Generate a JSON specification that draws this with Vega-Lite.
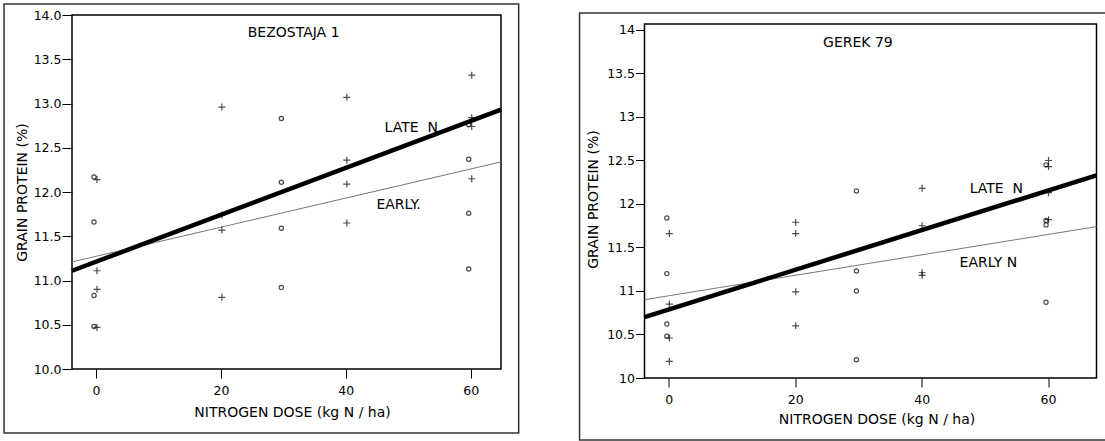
{
  "$schema": "https://vega.github.io/schema/vega-lite/v6.json",
  "padding": {"left": 3, "top": 3, "right": 0, "bottom": 0},
  "spacing": 58.5,
  "config": {
    "view": {"stroke": null},
    "axis": {"domain": false, "grid": false, "labelFont": "DejaVu Sans", "labelFontSize": 12.5, "labelColor": "#000", "tickColor": "#000", "tickWidth": 1, "titleFont": "DejaVu Sans", "titleFontSize": 14, "titleFontWeight": "normal", "titleColor": "#000", "labelFlush": false, "labelOverlap": false},
    "text": {"font": "DejaVu Sans"}
  },
  "datasets": {
    "points": [
      {"variety": "BEZOSTAJA 1", "timing": "EARLY", "dose": 0, "protein": 12.17},
      {"variety": "BEZOSTAJA 1", "timing": "EARLY", "dose": 0, "protein": 11.66},
      {"variety": "BEZOSTAJA 1", "timing": "EARLY", "dose": 0, "protein": 10.83},
      {"variety": "BEZOSTAJA 1", "timing": "EARLY", "dose": 0, "protein": 10.48},
      {"variety": "BEZOSTAJA 1", "timing": "EARLY", "dose": 30, "protein": 12.83},
      {"variety": "BEZOSTAJA 1", "timing": "EARLY", "dose": 30, "protein": 12.11},
      {"variety": "BEZOSTAJA 1", "timing": "EARLY", "dose": 30, "protein": 11.59},
      {"variety": "BEZOSTAJA 1", "timing": "EARLY", "dose": 30, "protein": 10.92},
      {"variety": "BEZOSTAJA 1", "timing": "EARLY", "dose": 60, "protein": 12.76},
      {"variety": "BEZOSTAJA 1", "timing": "EARLY", "dose": 60, "protein": 12.37},
      {"variety": "BEZOSTAJA 1", "timing": "EARLY", "dose": 60, "protein": 11.76},
      {"variety": "BEZOSTAJA 1", "timing": "EARLY", "dose": 60, "protein": 11.13},
      {"variety": "BEZOSTAJA 1", "timing": "LATE", "dose": 0, "protein": 12.14},
      {"variety": "BEZOSTAJA 1", "timing": "LATE", "dose": 0, "protein": 11.11},
      {"variety": "BEZOSTAJA 1", "timing": "LATE", "dose": 0, "protein": 10.90},
      {"variety": "BEZOSTAJA 1", "timing": "LATE", "dose": 0, "protein": 10.47},
      {"variety": "BEZOSTAJA 1", "timing": "LATE", "dose": 20, "protein": 12.96},
      {"variety": "BEZOSTAJA 1", "timing": "LATE", "dose": 20, "protein": 11.74},
      {"variety": "BEZOSTAJA 1", "timing": "LATE", "dose": 20, "protein": 11.57},
      {"variety": "BEZOSTAJA 1", "timing": "LATE", "dose": 20, "protein": 10.81},
      {"variety": "BEZOSTAJA 1", "timing": "LATE", "dose": 40, "protein": 13.07},
      {"variety": "BEZOSTAJA 1", "timing": "LATE", "dose": 40, "protein": 12.36},
      {"variety": "BEZOSTAJA 1", "timing": "LATE", "dose": 40, "protein": 12.09},
      {"variety": "BEZOSTAJA 1", "timing": "LATE", "dose": 40, "protein": 11.65},
      {"variety": "BEZOSTAJA 1", "timing": "LATE", "dose": 60, "protein": 13.32},
      {"variety": "BEZOSTAJA 1", "timing": "LATE", "dose": 60, "protein": 12.84},
      {"variety": "BEZOSTAJA 1", "timing": "LATE", "dose": 60, "protein": 12.74},
      {"variety": "BEZOSTAJA 1", "timing": "LATE", "dose": 60, "protein": 12.15},
      {"variety": "GEREK 79", "timing": "EARLY", "dose": 0, "protein": 11.84},
      {"variety": "GEREK 79", "timing": "EARLY", "dose": 0, "protein": 11.20},
      {"variety": "GEREK 79", "timing": "EARLY", "dose": 0, "protein": 10.62},
      {"variety": "GEREK 79", "timing": "EARLY", "dose": 0, "protein": 10.48},
      {"variety": "GEREK 79", "timing": "EARLY", "dose": 30, "protein": 12.15},
      {"variety": "GEREK 79", "timing": "EARLY", "dose": 30, "protein": 11.23},
      {"variety": "GEREK 79", "timing": "EARLY", "dose": 30, "protein": 11.00},
      {"variety": "GEREK 79", "timing": "EARLY", "dose": 30, "protein": 10.21},
      {"variety": "GEREK 79", "timing": "EARLY", "dose": 60, "protein": 12.45},
      {"variety": "GEREK 79", "timing": "EARLY", "dose": 60, "protein": 11.81},
      {"variety": "GEREK 79", "timing": "EARLY", "dose": 60, "protein": 11.76},
      {"variety": "GEREK 79", "timing": "EARLY", "dose": 60, "protein": 10.87},
      {"variety": "GEREK 79", "timing": "LATE", "dose": 0, "protein": 11.66},
      {"variety": "GEREK 79", "timing": "LATE", "dose": 0, "protein": 10.85},
      {"variety": "GEREK 79", "timing": "LATE", "dose": 0, "protein": 10.46},
      {"variety": "GEREK 79", "timing": "LATE", "dose": 0, "protein": 10.19},
      {"variety": "GEREK 79", "timing": "LATE", "dose": 20, "protein": 11.79},
      {"variety": "GEREK 79", "timing": "LATE", "dose": 20, "protein": 11.66},
      {"variety": "GEREK 79", "timing": "LATE", "dose": 20, "protein": 10.99},
      {"variety": "GEREK 79", "timing": "LATE", "dose": 20, "protein": 10.60},
      {"variety": "GEREK 79", "timing": "LATE", "dose": 40, "protein": 12.18},
      {"variety": "GEREK 79", "timing": "LATE", "dose": 40, "protein": 11.75},
      {"variety": "GEREK 79", "timing": "LATE", "dose": 40, "protein": 11.21},
      {"variety": "GEREK 79", "timing": "LATE", "dose": 40, "protein": 11.18},
      {"variety": "GEREK 79", "timing": "LATE", "dose": 60, "protein": 12.50},
      {"variety": "GEREK 79", "timing": "LATE", "dose": 60, "protein": 12.43},
      {"variety": "GEREK 79", "timing": "LATE", "dose": 60, "protein": 12.13},
      {"variety": "GEREK 79", "timing": "LATE", "dose": 60, "protein": 11.82}
    ],
    "fits": [
      {"variety": "BEZOSTAJA 1", "timing": "LATE", "dose": -3.84, "protein": 11.11},
      {"variety": "BEZOSTAJA 1", "timing": "LATE", "dose": 64.85, "protein": 12.93},
      {"variety": "BEZOSTAJA 1", "timing": "EARLY", "dose": -3.84, "protein": 11.21},
      {"variety": "BEZOSTAJA 1", "timing": "EARLY", "dose": 64.85, "protein": 12.34},
      {"variety": "GEREK 79", "timing": "LATE", "dose": -3.85, "protein": 10.70},
      {"variety": "GEREK 79", "timing": "LATE", "dose": 67.67, "protein": 12.33},
      {"variety": "GEREK 79", "timing": "EARLY", "dose": -3.85, "protein": 10.90},
      {"variety": "GEREK 79", "timing": "EARLY", "dose": 67.67, "protein": 11.74}
    ],
    "notes": [
      {"variety": "BEZOSTAJA 1", "label": "BEZOSTAJA 1", "dose": 24.3, "protein": 13.80},
      {"variety": "BEZOSTAJA 1", "label": "LATE\u00a0\u00a0N", "dose": 46.2, "protein": 12.72},
      {"variety": "BEZOSTAJA 1", "label": "EARLY.", "dose": 44.9, "protein": 11.85},
      {"variety": "GEREK 79", "label": "GEREK 79", "dose": 24.4, "protein": 13.85},
      {"variety": "GEREK 79", "label": "LATE\u00a0\u00a0N", "dose": 47.6, "protein": 12.17},
      {"variety": "GEREK 79", "label": "EARLY N", "dose": 46.0, "protein": 11.32}
    ]
  },
  "hconcat": [
    {
      "width": 429,
      "height": 354,
      "layer": [
        {
          "data": {"values": [{}]},
          "mark": {"type": "rect", "filled": false, "stroke": "#333333", "strokeWidth": 1.5},
          "encoding": {
            "x": {"datum": -14.72, "type": "quantitative", "scale": {"domain": [-3.84, 64.85], "nice": false, "zero": false},
              "axis": {"values": [0, 20, 40, 60], "title": "NITROGEN DOSE (kg N / ha)", "tickSize": 9, "labelPadding": 6, "titleX": 220, "titleY": 43.5, "titleBaseline": "middle", "titleAlign": "center"}},
            "x2": {"datum": 67.68},
            "y": {"datum": 9.277, "type": "quantitative", "scale": {"domain": [10, 14], "nice": false, "zero": false},
              "axis": {"values": [10, 10.5, 11, 11.5, 12, 12.5, 13, 13.5, 14], "format": ".1f", "title": "GRAIN PROTEIN (%)", "tickSize": 10, "labelPadding": 1, "titleX": -50, "titleY": 177, "titleBaseline": "middle", "titleAlign": "center"}},
            "y2": {"datum": 14.124}
          }
        },
        {
          "data": {"values": [{}]},
          "mark": {"type": "rect", "filled": false, "stroke": "#000000", "strokeWidth": 1.5},
          "encoding": {
            "x": {"datum": -3.84, "type": "quantitative", "scale": {"domain": [-3.84, 64.85], "nice": false, "zero": false},
              "axis": {"values": [0, 20, 40, 60], "title": "NITROGEN DOSE (kg N / ha)", "tickSize": 9, "labelPadding": 6, "titleX": 220, "titleY": 43.5, "titleBaseline": "middle", "titleAlign": "center"}},
            "x2": {"datum": 64.85},
            "y": {"datum": 10, "type": "quantitative", "scale": {"domain": [10, 14], "nice": false, "zero": false},
              "axis": {"values": [10, 10.5, 11, 11.5, 12, 12.5, 13, 13.5, 14], "format": ".1f", "title": "GRAIN PROTEIN (%)", "tickSize": 10, "labelPadding": 1, "titleX": -50, "titleY": 177, "titleBaseline": "middle", "titleAlign": "center"}},
            "y2": {"datum": 14}
          }
        },
        {
          "data": {"name": "fits"},
          "transform": [{"filter": "datum.variety === 'BEZOSTAJA 1' && datum.timing === 'EARLY'"}],
          "mark": {"type": "line", "color": "#777777", "strokeWidth": 1},
          "encoding": {
            "x": {"field": "dose", "type": "quantitative", "scale": {"domain": [-3.84, 64.85], "nice": false, "zero": false},
              "axis": {"values": [0, 20, 40, 60], "title": "NITROGEN DOSE (kg N / ha)", "tickSize": 9, "labelPadding": 6, "titleX": 220, "titleY": 43.5, "titleBaseline": "middle", "titleAlign": "center"}},
            "y": {"field": "protein", "type": "quantitative", "scale": {"domain": [10, 14], "nice": false, "zero": false},
              "axis": {"values": [10, 10.5, 11, 11.5, 12, 12.5, 13, 13.5, 14], "format": ".1f", "title": "GRAIN PROTEIN (%)", "tickSize": 10, "labelPadding": 1, "titleX": -50, "titleY": 177, "titleBaseline": "middle", "titleAlign": "center"}}
          }
        },
        {
          "data": {"name": "fits"},
          "transform": [{"filter": "datum.variety === 'BEZOSTAJA 1' && datum.timing === 'LATE'"}],
          "mark": {"type": "line", "color": "#000000", "strokeWidth": 4.5},
          "encoding": {
            "x": {"field": "dose", "type": "quantitative", "scale": {"domain": [-3.84, 64.85], "nice": false, "zero": false},
              "axis": {"values": [0, 20, 40, 60], "title": "NITROGEN DOSE (kg N / ha)", "tickSize": 9, "labelPadding": 6, "titleX": 220, "titleY": 43.5, "titleBaseline": "middle", "titleAlign": "center"}},
            "y": {"field": "protein", "type": "quantitative", "scale": {"domain": [10, 14], "nice": false, "zero": false},
              "axis": {"values": [10, 10.5, 11, 11.5, 12, 12.5, 13, 13.5, 14], "format": ".1f", "title": "GRAIN PROTEIN (%)", "tickSize": 10, "labelPadding": 1, "titleX": -50, "titleY": 177, "titleBaseline": "middle", "titleAlign": "center"}}
          }
        },
        {
          "data": {"name": "points"},
          "transform": [{"filter": "datum.variety === 'BEZOSTAJA 1' && datum.timing === 'EARLY'"}],
          "mark": {"type": "point", "shape": "circle", "filled": false, "stroke": "#000000", "strokeWidth": 1.2, "size": 18, "xOffset": -2},
          "encoding": {
            "x": {"field": "dose", "type": "quantitative", "scale": {"domain": [-3.84, 64.85], "nice": false, "zero": false},
              "axis": {"values": [0, 20, 40, 60], "title": "NITROGEN DOSE (kg N / ha)", "tickSize": 9, "labelPadding": 6, "titleX": 220, "titleY": 43.5, "titleBaseline": "middle", "titleAlign": "center"}},
            "y": {"field": "protein", "type": "quantitative", "scale": {"domain": [10, 14], "nice": false, "zero": false},
              "axis": {"values": [10, 10.5, 11, 11.5, 12, 12.5, 13, 13.5, 14], "format": ".1f", "title": "GRAIN PROTEIN (%)", "tickSize": 10, "labelPadding": 1, "titleX": -50, "titleY": 177, "titleBaseline": "middle", "titleAlign": "center"}}
          }
        },
        {
          "data": {"name": "points"},
          "transform": [{"filter": "datum.variety === 'BEZOSTAJA 1' && datum.timing === 'LATE'"}],
          "mark": {"type": "point", "shape": "M-1,0L1,0M0,-1L0,1", "filled": false, "stroke": "#000000", "strokeWidth": 1.2, "size": 49, "xOffset": 1},
          "encoding": {
            "x": {"field": "dose", "type": "quantitative", "scale": {"domain": [-3.84, 64.85], "nice": false, "zero": false},
              "axis": {"values": [0, 20, 40, 60], "title": "NITROGEN DOSE (kg N / ha)", "tickSize": 9, "labelPadding": 6, "titleX": 220, "titleY": 43.5, "titleBaseline": "middle", "titleAlign": "center"}},
            "y": {"field": "protein", "type": "quantitative", "scale": {"domain": [10, 14], "nice": false, "zero": false},
              "axis": {"values": [10, 10.5, 11, 11.5, 12, 12.5, 13, 13.5, 14], "format": ".1f", "title": "GRAIN PROTEIN (%)", "tickSize": 10, "labelPadding": 1, "titleX": -50, "titleY": 177, "titleBaseline": "middle", "titleAlign": "center"}}
          }
        },
        {
          "data": {"name": "notes"},
          "transform": [{"filter": "datum.variety === 'BEZOSTAJA 1'"}],
          "mark": {"type": "text", "align": "left", "baseline": "middle", "fontSize": 14, "color": "#000000"},
          "encoding": {
            "x": {"field": "dose", "type": "quantitative", "scale": {"domain": [-3.84, 64.85], "nice": false, "zero": false},
              "axis": {"values": [0, 20, 40, 60], "title": "NITROGEN DOSE (kg N / ha)", "tickSize": 9, "labelPadding": 6, "titleX": 220, "titleY": 43.5, "titleBaseline": "middle", "titleAlign": "center"}},
            "y": {"field": "protein", "type": "quantitative", "scale": {"domain": [10, 14], "nice": false, "zero": false},
              "axis": {"values": [10, 10.5, 11, 11.5, 12, 12.5, 13, 13.5, 14], "format": ".1f", "title": "GRAIN PROTEIN (%)", "tickSize": 10, "labelPadding": 1, "titleX": -50, "titleY": 177, "titleBaseline": "middle", "titleAlign": "center"}},
            "text": {"field": "label"}
          }
        }
      ]
    },
    {
      "width": 452,
      "height": 363,
      "layer": [
        {
          "data": {"values": [{}]},
          "mark": {"type": "rect", "filled": false, "stroke": "#333333", "strokeWidth": 1.5},
          "encoding": {
            "x": {"datum": -14.13, "type": "quantitative", "scale": {"domain": [-3.85, 67.67], "nice": false, "zero": false},
              "axis": {"values": [0, 20, 40, 60], "title": "NITROGEN DOSE (kg N / ha)", "tickSize": 9, "labelPadding": 6, "titleX": 232, "titleY": 41.5, "titleBaseline": "middle", "titleAlign": "center"}},
            "x2": {"datum": 70.2},
            "y": {"datum": 9.287, "type": "quantitative", "scale": {"domain": [10, 14.1724], "nice": false, "zero": false},
              "axis": {"values": [10, 10.5, 11, 11.5, 12, 12.5, 13, 13.5, 14], "format": "~g", "title": "GRAIN PROTEIN (%)", "tickSize": 9, "labelPadding": 1, "titleX": -51, "titleY": 184, "titleBaseline": "middle", "titleAlign": "center"}},
            "y2": {"datum": 14.195}
          }
        },
        {
          "data": {"values": [{}]},
          "mark": {"type": "rect", "filled": false, "stroke": "#000000", "strokeWidth": 1.5},
          "encoding": {
            "x": {"datum": -3.85, "type": "quantitative", "scale": {"domain": [-3.85, 67.67], "nice": false, "zero": false},
              "axis": {"values": [0, 20, 40, 60], "title": "NITROGEN DOSE (kg N / ha)", "tickSize": 9, "labelPadding": 6, "titleX": 232, "titleY": 41.5, "titleBaseline": "middle", "titleAlign": "center"}},
            "x2": {"datum": 67.67},
            "y": {"datum": 10, "type": "quantitative", "scale": {"domain": [10, 14.1724], "nice": false, "zero": false},
              "axis": {"values": [10, 10.5, 11, 11.5, 12, 12.5, 13, 13.5, 14], "format": "~g", "title": "GRAIN PROTEIN (%)", "tickSize": 9, "labelPadding": 1, "titleX": -51, "titleY": 184, "titleBaseline": "middle", "titleAlign": "center"}},
            "y2": {"datum": 14.069}
          }
        },
        {
          "data": {"name": "fits"},
          "transform": [{"filter": "datum.variety === 'GEREK 79' && datum.timing === 'EARLY'"}],
          "mark": {"type": "line", "color": "#777777", "strokeWidth": 1},
          "encoding": {
            "x": {"field": "dose", "type": "quantitative", "scale": {"domain": [-3.85, 67.67], "nice": false, "zero": false},
              "axis": {"values": [0, 20, 40, 60], "title": "NITROGEN DOSE (kg N / ha)", "tickSize": 9, "labelPadding": 6, "titleX": 232, "titleY": 41.5, "titleBaseline": "middle", "titleAlign": "center"}},
            "y": {"field": "protein", "type": "quantitative", "scale": {"domain": [10, 14.1724], "nice": false, "zero": false},
              "axis": {"values": [10, 10.5, 11, 11.5, 12, 12.5, 13, 13.5, 14], "format": "~g", "title": "GRAIN PROTEIN (%)", "tickSize": 9, "labelPadding": 1, "titleX": -51, "titleY": 184, "titleBaseline": "middle", "titleAlign": "center"}}
          }
        },
        {
          "data": {"name": "fits"},
          "transform": [{"filter": "datum.variety === 'GEREK 79' && datum.timing === 'LATE'"}],
          "mark": {"type": "line", "color": "#000000", "strokeWidth": 4.5},
          "encoding": {
            "x": {"field": "dose", "type": "quantitative", "scale": {"domain": [-3.85, 67.67], "nice": false, "zero": false},
              "axis": {"values": [0, 20, 40, 60], "title": "NITROGEN DOSE (kg N / ha)", "tickSize": 9, "labelPadding": 6, "titleX": 232, "titleY": 41.5, "titleBaseline": "middle", "titleAlign": "center"}},
            "y": {"field": "protein", "type": "quantitative", "scale": {"domain": [10, 14.1724], "nice": false, "zero": false},
              "axis": {"values": [10, 10.5, 11, 11.5, 12, 12.5, 13, 13.5, 14], "format": "~g", "title": "GRAIN PROTEIN (%)", "tickSize": 9, "labelPadding": 1, "titleX": -51, "titleY": 184, "titleBaseline": "middle", "titleAlign": "center"}}
          }
        },
        {
          "data": {"name": "points"},
          "transform": [{"filter": "datum.variety === 'GEREK 79' && datum.timing === 'EARLY'"}],
          "mark": {"type": "point", "shape": "circle", "filled": false, "stroke": "#000000", "strokeWidth": 1.2, "size": 18, "xOffset": -2},
          "encoding": {
            "x": {"field": "dose", "type": "quantitative", "scale": {"domain": [-3.85, 67.67], "nice": false, "zero": false},
              "axis": {"values": [0, 20, 40, 60], "title": "NITROGEN DOSE (kg N / ha)", "tickSize": 9, "labelPadding": 6, "titleX": 232, "titleY": 41.5, "titleBaseline": "middle", "titleAlign": "center"}},
            "y": {"field": "protein", "type": "quantitative", "scale": {"domain": [10, 14.1724], "nice": false, "zero": false},
              "axis": {"values": [10, 10.5, 11, 11.5, 12, 12.5, 13, 13.5, 14], "format": "~g", "title": "GRAIN PROTEIN (%)", "tickSize": 9, "labelPadding": 1, "titleX": -51, "titleY": 184, "titleBaseline": "middle", "titleAlign": "center"}}
          }
        },
        {
          "data": {"name": "points"},
          "transform": [{"filter": "datum.variety === 'GEREK 79' && datum.timing === 'LATE'"}],
          "mark": {"type": "point", "shape": "M-1,0L1,0M0,-1L0,1", "filled": false, "stroke": "#000000", "strokeWidth": 1.2, "size": 49, "xOffset": 0.5},
          "encoding": {
            "x": {"field": "dose", "type": "quantitative", "scale": {"domain": [-3.85, 67.67], "nice": false, "zero": false},
              "axis": {"values": [0, 20, 40, 60], "title": "NITROGEN DOSE (kg N / ha)", "tickSize": 9, "labelPadding": 6, "titleX": 232, "titleY": 41.5, "titleBaseline": "middle", "titleAlign": "center"}},
            "y": {"field": "protein", "type": "quantitative", "scale": {"domain": [10, 14.1724], "nice": false, "zero": false},
              "axis": {"values": [10, 10.5, 11, 11.5, 12, 12.5, 13, 13.5, 14], "format": "~g", "title": "GRAIN PROTEIN (%)", "tickSize": 9, "labelPadding": 1, "titleX": -51, "titleY": 184, "titleBaseline": "middle", "titleAlign": "center"}}
          }
        },
        {
          "data": {"name": "notes"},
          "transform": [{"filter": "datum.variety === 'GEREK 79'"}],
          "mark": {"type": "text", "align": "left", "baseline": "middle", "fontSize": 14, "color": "#000000"},
          "encoding": {
            "x": {"field": "dose", "type": "quantitative", "scale": {"domain": [-3.85, 67.67], "nice": false, "zero": false},
              "axis": {"values": [0, 20, 40, 60], "title": "NITROGEN DOSE (kg N / ha)", "tickSize": 9, "labelPadding": 6, "titleX": 232, "titleY": 41.5, "titleBaseline": "middle", "titleAlign": "center"}},
            "y": {"field": "protein", "type": "quantitative", "scale": {"domain": [10, 14.1724], "nice": false, "zero": false},
              "axis": {"values": [10, 10.5, 11, 11.5, 12, 12.5, 13, 13.5, 14], "format": "~g", "title": "GRAIN PROTEIN (%)", "tickSize": 9, "labelPadding": 1, "titleX": -51, "titleY": 184, "titleBaseline": "middle", "titleAlign": "center"}},
            "text": {"field": "label"}
          }
        }
      ]
    }
  ]
}
